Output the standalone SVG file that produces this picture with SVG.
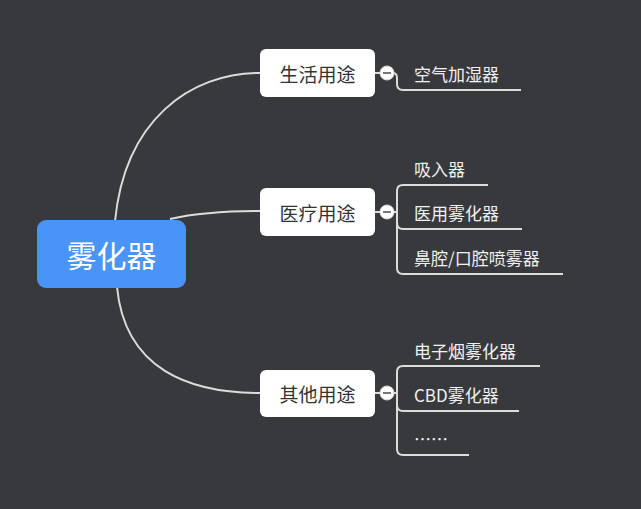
<svg xmlns="http://www.w3.org/2000/svg" width="641" height="509" viewBox="0 0 641 509">
<style>
.bg{fill:#38393d}
.root{fill:#4a94f7}
.rt{fill:#ffffff;font-family:"Noto Sans CJK SC","Noto Sans",sans-serif;font-size:30px;text-anchor:middle;dominant-baseline:central}
.box{fill:#ffffff}
.bt{fill:#333333;font-family:"Noto Sans CJK SC","Noto Sans",sans-serif;font-size:19px;text-anchor:middle;dominant-baseline:central}
.ct{fill:#f2f2f2;font-family:"Noto Sans CJK SC","Liberation Sans",sans-serif;font-size:17px;dominant-baseline:central}
.ln{fill:none;stroke:#dcdcdc;stroke-width:2}
.cb{fill:#ffffff;stroke:#dcdcdc;stroke-width:1}
.mn{stroke:#555555;stroke-width:1.6}
</style>
<rect class="bg" x="0" y="0" width="641" height="509"/>
<g id="connectors">
<path class="ln" d="M115,221 C125,120 190,73 260,73"/>
<path class="ln" d="M170,219 Q205,211 260,211"/>
<path class="ln" d="M117,287 C125,370 190,393 260,393"/>
<path class="ln" d="M375,73 H381"/>
<path class="ln" d="M375,212 H381"/>
<path class="ln" d="M375,393 H381"/>
<path class="ln" d="M393,73 Q397,73 397,78 V84 Q397,90 403,90 H521"/>
<path class="ln" d="M393,212 H397"/>
<path class="ln" d="M488,185 H403 Q397,185 397,191 V268 Q397,274 403,274 H563"/>
<path class="ln" d="M397,223 Q397,229 403,229 H522"/>
<path class="ln" d="M393,393 H397"/>
<path class="ln" d="M540,366 H403 Q397,366 397,372 V449 Q397,455 403,455 H469"/>
<path class="ln" d="M397,405 Q397,411 403,411 H519"/>
</g>
<g id="root">
<rect class="root" x="37" y="220" width="149" height="68" rx="9"/>
<text class="rt" x="111.5" y="254">雾化器</text>
</g>
<g id="n1">
<rect class="box" x="260" y="49" width="115" height="48" rx="6"/>
<text class="bt" x="317.5" y="73">生活用途</text>
<circle class="cb" cx="387" cy="73" r="7"/>
<line class="mn" x1="383" y1="73" x2="391" y2="73"/>
</g>
<g id="n2">
<rect class="box" x="260" y="188" width="115" height="48" rx="6"/>
<text class="bt" x="317.5" y="212">医疗用途</text>
<circle class="cb" cx="387" cy="212" r="7"/>
<line class="mn" x1="383" y1="212" x2="391" y2="212"/>
</g>
<g id="n3">
<rect class="box" x="260" y="370" width="115" height="47" rx="6"/>
<text class="bt" x="317.5" y="393">其他用途</text>
<circle class="cb" cx="387" cy="393" r="7"/>
<line class="mn" x1="383" y1="393" x2="391" y2="393"/>
</g>
<g id="c1"><text class="ct" x="414" y="73">空气加湿器</text></g>
<g id="c2"><text class="ct" x="414" y="168">吸入器</text></g>
<g id="c3"><text class="ct" x="414" y="212">医用雾化器</text></g>
<g id="c4"><text class="ct" x="414" y="257">鼻腔/口腔喷雾器</text></g>
<g id="c5"><text class="ct" x="414" y="350">电子烟雾化器</text></g>
<g id="c6"><text class="ct" x="414" y="394">CBD雾化器</text></g>
<g id="c7"><text class="ct" x="414" y="438">……</text></g>
</svg>
